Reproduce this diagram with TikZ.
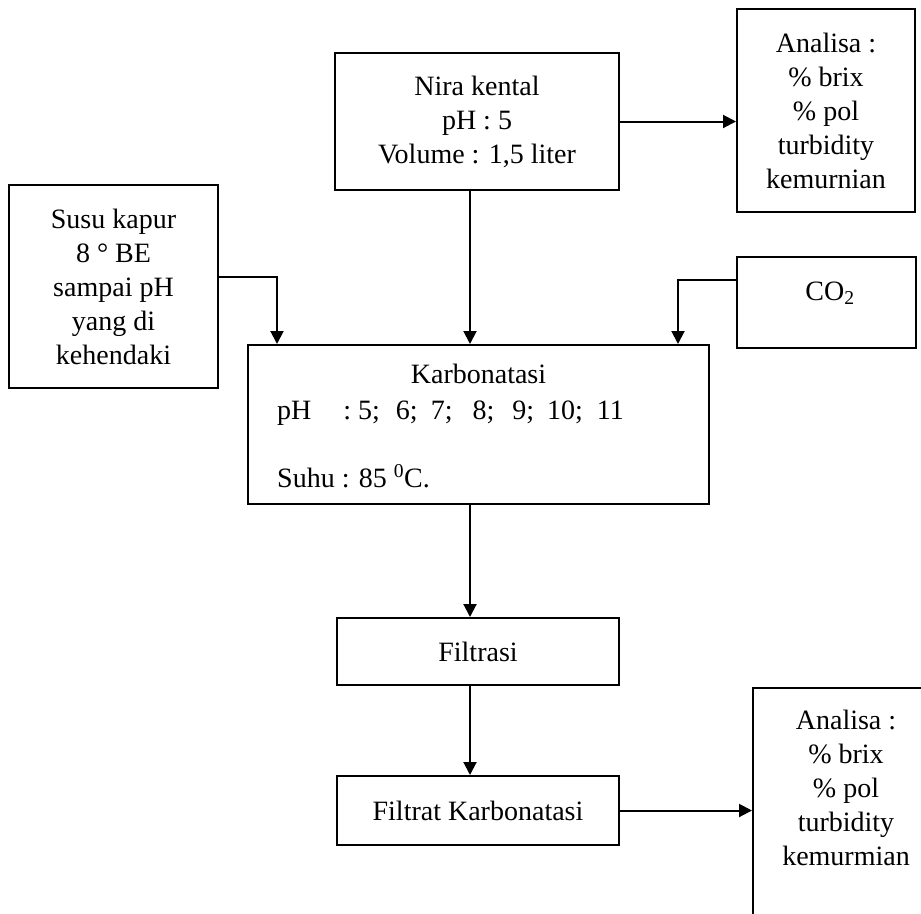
\documentclass[tikz,border=0pt]{standalone}
\usepackage{fontspec}
\setmainfont{Liberation Serif}
\usetikzlibrary{arrows.meta}
\begin{document}
\begin{tikzpicture}[x=1pt,y=-1pt,
  box/.style={draw, line width=2pt, rectangle, inner sep=0pt, align=center, font=\fontsize{28}{34}\selectfont},
  txt/.style={inner sep=0pt, font=\fontsize{28}{34}\selectfont},
  arr/.style={line width=2pt, -{Triangle[length=13pt,width=13pt]}}]
\useasboundingbox (0,0) rectangle (921,913);
\clip (0,0) rectangle (921,913);
% boxes
\node[box, minimum width=284pt, minimum height=137pt] (nira) at (477,121.5) {Nira kental\\pH : 5\\Volume : 1,5 liter};
\node[box, minimum width=178pt, minimum height=203pt] (ana1) at (826,110.5) {Analisa :\\\% brix\\\% pol\\turbidity\\kemurnian};
\node[box, minimum width=179pt, minimum height=91pt] (co2) at (826.5,302.5) {};
\node[txt, anchor=base] (co2t) at (830,300) {CO\textsubscript{2}};
\node[box, minimum width=209pt, minimum height=203pt] (susu) at (113.5,286.5) {Susu kapur\\8 ° BE\\sampai pH\\yang di\\kehendaki};
\node[box, minimum width=461pt, minimum height=159pt] (karb) at (478.5,424.5) {};
\node[txt, anchor=base] (karbt) at (478.5,383) {Karbonatasi};
\node[txt, anchor=base west] (karbph) at (277,419) {pH\hspace{32pt}: 5;\hspace{16pt}6;\hspace{13pt}7;\hspace{20pt}8;\hspace{18pt}9;\hspace{13pt}10;\hspace{14pt}11};
\node[txt, anchor=base west] (karbsuhu) at (277,487) {Suhu : 85 \textsuperscript{0}C.};
\node[box, minimum width=282pt, minimum height=67pt] (filt) at (478,651.5) {Filtrasi};
\node[box, minimum width=282pt, minimum height=69pt] (filtrat) at (478,810.5) {Filtrat Karbonatasi};
\node[box, minimum width=186pt, minimum height=250pt] (ana2) at (846,813) {};
\node[txt, align=center] (ana2t) at (846,788) {Analisa :\\\% brix\\\% pol\\turbidity\\kemurmian};
% guide coordinates
\coordinate (cx) at (470,0);
\coordinate (sx) at (277,0);
\coordinate (ox) at (678,0);
% connectors
\draw[arr] (nira.east) -- (nira.east -| ana1.west);
\draw[arr] (nira.south -| cx) -- (karb.north -| cx);
\draw[arr] ([yshift=9.5pt]susu.east) -| (karb.north -| sx);
\draw[arr] ([yshift=22.5pt]co2.west) -| (karb.north -| ox);
\draw[arr] (karb.south -| cx) -- (filt.north -| cx);
\draw[arr] (filt.south -| cx) -- (filtrat.north -| cx);
\draw[arr] (filtrat.east) -- (filtrat.east -| ana2.west);
\end{tikzpicture}
\end{document}
